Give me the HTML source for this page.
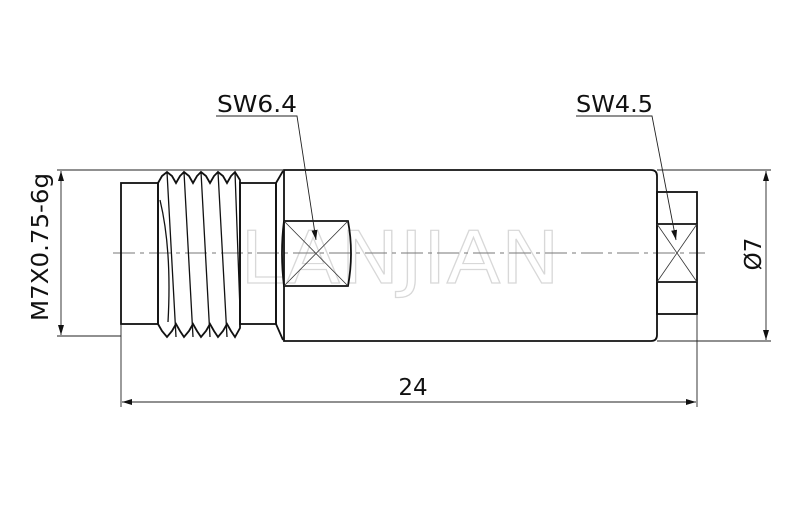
<!DOCTYPE html>
<html><head><style>
html,body{margin:0;padding:0;background:#fff;}
svg{display:block;}
text{font-family:"DejaVu Sans","Liberation Sans",sans-serif;fill:#111;}
</style></head><body>
<svg width="800" height="508" viewBox="0 0 800 508" xmlns="http://www.w3.org/2000/svg">
<defs>
<marker id="a" viewBox="0 0 10 6" refX="10" refY="3" markerWidth="10" markerHeight="6" orient="auto-start-reverse" markerUnits="userSpaceOnUse">
<path d="M0,0 L10,3 L0,6 Z" fill="#111"/></marker>
</defs>
<text x="400" y="283" text-anchor="middle" font-size="72" stroke="#d8d8d8" stroke-width="1.2" style="fill:none" textLength="320" lengthAdjust="spacingAndGlyphs">LANJIAN</text>
<line x1="113" y1="253" x2="705" y2="253" stroke="#777" stroke-width="1" stroke-dasharray="22,5,4,5"/>
<g fill="none" stroke="#111" stroke-width="1.8">
<rect x="121" y="183" width="37" height="141"/>
<path d="M158,183 L162,176 L167,172 L172,176 L176,183 L180,176 L184,172 L189,176 L193,183 L197,176 L201,172 L206,176 L210,183 L214,176 L218,172 L223,176 L227,183 L231,176 L235,172 L240,180 L240,183"/>
<path d="M158,324 L162,331 L167,337 L172,331 L176,324 L180,331 L184,337 L189,331 L193,324 L197,331 L201,337 L206,331 L210,324 L214,331 L218,337 L223,331 L227,324 L231,331 L235,337 L240,328 L240,324"/>
<line x1="158" y1="183" x2="158" y2="324"/>
<line x1="240" y1="183" x2="240" y2="324"/>
<rect x="240" y="183" width="36" height="141"/>
<path d="M276,183 L283,171 M276,324 L283,340 M276,183 L276,324"/>
<path d="M284,170 L651,170 Q657,170 657,176 L657,335 Q657,341 651,341 L284,341 Z"/>
<path d="M284,221 L348,221 Q354,253 348,286 L284,286 Q280,253 284,221"/>
<rect x="657" y="192" width="40" height="122"/>
<line x1="657" y1="224" x2="697" y2="224"/>
<line x1="657" y1="282" x2="697" y2="282"/>
</g>
<g stroke="#111" stroke-width="1.3" fill="none">
<path d="M160,200 Q172,250 168,322"/>
<path d="M167,172 L176,337 M184,172 L193,337 M201,172 L210,337 M218,172 L227,337 M235,172 L240,310"/>
</g>
<g stroke="#333" stroke-width="0.8">
<line x1="284" y1="221" x2="348" y2="286"/><line x1="348" y1="221" x2="284" y2="286"/>
<line x1="657" y1="224" x2="697" y2="282"/><line x1="697" y1="224" x2="657" y2="282"/>
</g>
<g stroke="#222" stroke-width="0.9" fill="none">
<line x1="57" y1="170" x2="283" y2="170"/>
<line x1="57" y1="336" x2="121" y2="336"/>
<line x1="61" y1="171" x2="61" y2="335" marker-start="url(#a)" marker-end="url(#a)"/>
<line x1="657" y1="170" x2="771" y2="170"/>
<line x1="657" y1="341" x2="771" y2="341"/>
<line x1="766" y1="171" x2="766" y2="340" marker-start="url(#a)" marker-end="url(#a)"/>
<line x1="121" y1="324" x2="121" y2="407"/>
<line x1="697" y1="314" x2="697" y2="407"/>
<line x1="122" y1="402" x2="696" y2="402" marker-start="url(#a)" marker-end="url(#a)"/>
<polyline points="216,116 297,116 316,240" marker-end="url(#a)"/>
<polyline points="576,116 652,116 676,240" marker-end="url(#a)"/>
</g>
<text x="217" y="112" font-size="23" textLength="80" lengthAdjust="spacingAndGlyphs">SW6.4</text>
<text x="576" y="112" font-size="23" textLength="77" lengthAdjust="spacingAndGlyphs">SW4.5</text>
<text x="413" y="395" font-size="23" text-anchor="middle">24</text>
<text transform="translate(48,247) rotate(-90)" font-size="23" text-anchor="middle" textLength="148" lengthAdjust="spacingAndGlyphs">M7X0.75-6g</text>
<text transform="translate(761,254) rotate(-90)" font-size="23" text-anchor="middle">Ø7</text>
</svg>
</body></html>
